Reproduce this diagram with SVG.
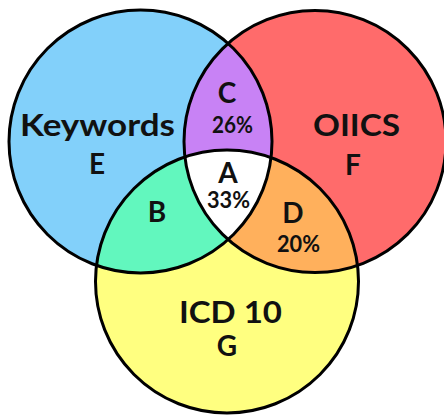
<svg xmlns="http://www.w3.org/2000/svg" width="444" height="416" viewBox="0 0 444 416">
  <style>
    .ring { fill: none; stroke: #000; stroke-width: 3; }
    .lbl { font-family: Lato, "Open Sans", "Liberation Sans", sans-serif; font-weight: 700; fill: #111; text-anchor: middle; }
    .title { font-size: 31px; }
    .letter { font-size: 28px; }
    .pct { font-size: 23px; }
  </style>
  <defs>
    <circle id="c-kw" cx="140.5" cy="141.5" r="131.5"/>
    <circle id="c-oi" cx="315" cy="141.5" r="131"/>
    <circle id="c-icd" cx="227" cy="281.5" r="131.5"/>
    <clipPath id="in-kw"><use href="#c-kw"/></clipPath>
    <clipPath id="in-oi"><use href="#c-oi"/></clipPath>
  </defs>

  <!-- set bodies -->
  <g id="keywords">
    <use href="#c-kw" fill="#82D0FA"/>
  </g>
  <g id="oiics">
    <use href="#c-oi" fill="#FF6B6B"/>
  </g>
  <g id="icd10">
    <use href="#c-icd" fill="#FFFF80"/>
  </g>

  <!-- pairwise overlaps -->
  <g id="region-c">
    <use href="#c-oi" fill="#C882F5" clip-path="url(#in-kw)"/>
  </g>
  <g id="region-b">
    <use href="#c-icd" fill="#62F7BE" clip-path="url(#in-kw)"/>
  </g>
  <g id="region-d">
    <use href="#c-icd" fill="#FFB05C" clip-path="url(#in-oi)"/>
  </g>
  <!-- triple overlap -->
  <g id="region-a">
    <g clip-path="url(#in-oi)">
      <use href="#c-icd" fill="#FFFFFF" clip-path="url(#in-kw)"/>
    </g>
  </g>

  <!-- outlines -->
  <g id="outlines">
    <use href="#c-kw" class="ring"/>
    <use href="#c-oi" class="ring"/>
    <use href="#c-icd" class="ring"/>
  </g>

  <!-- labels -->
  <g id="labels">
    <text class="lbl title" x="97.5" y="136" textLength="155" lengthAdjust="spacingAndGlyphs">Keywords</text>
    <text class="lbl letter" x="97" y="174">E</text>
    <text class="lbl title" x="356.5" y="136" textLength="87" lengthAdjust="spacingAndGlyphs">OIICS</text>
    <text class="lbl letter" x="353" y="175">F</text>
    <text class="lbl title" x="230.5" y="323" textLength="103" lengthAdjust="spacingAndGlyphs">ICD 10</text>
    <text class="lbl letter" x="227" y="356">G</text>
    <text class="lbl letter" x="227" y="103">C</text>
    <text class="lbl pct" x="232.5" y="133" textLength="41" lengthAdjust="spacingAndGlyphs">26%</text>
    <text class="lbl letter" x="228" y="183">A</text>
    <text class="lbl pct" x="228.5" y="208" textLength="43" lengthAdjust="spacingAndGlyphs">33%</text>
    <text class="lbl letter" x="157" y="222">B</text>
    <text class="lbl letter" x="293" y="223">D</text>
    <text class="lbl pct" x="298.5" y="252" textLength="43" lengthAdjust="spacingAndGlyphs">20%</text>
  </g>
</svg>
